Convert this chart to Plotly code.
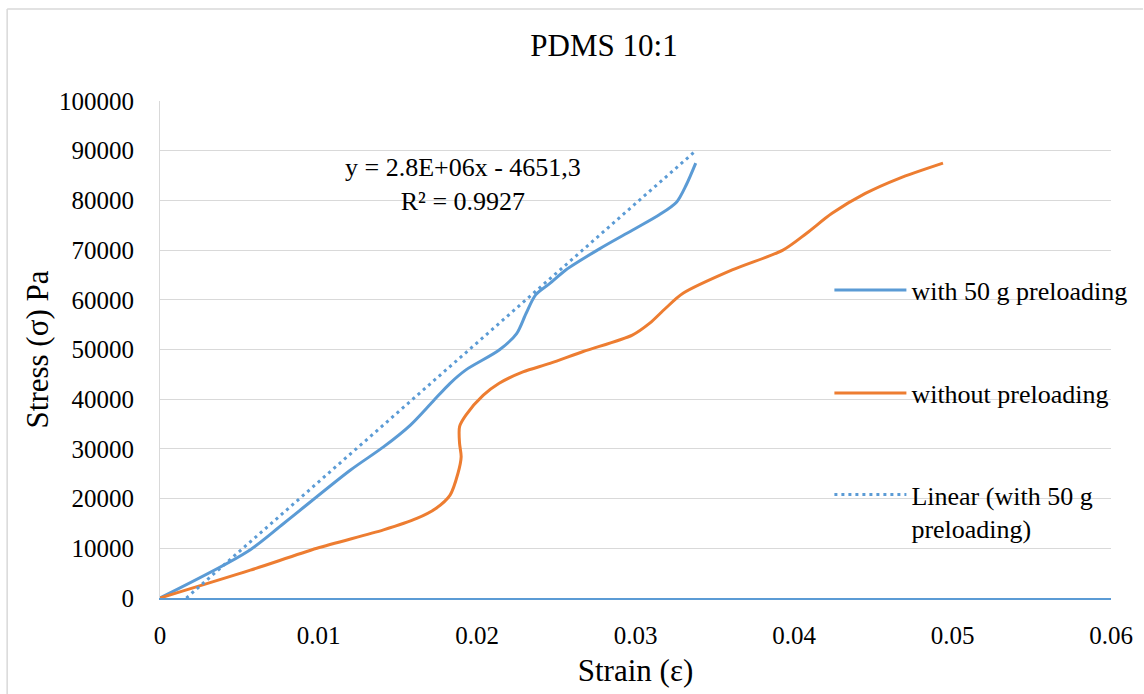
import plotly.graph_objects as go

# Stress-strain measurements for PDMS 10:1
strain_preloaded = [0, 0.0055, 0.0078, 0.0120, 0.0141, 0.0158, 0.0172,
                    0.0183, 0.0193, 0.0214, 0.0225, 0.0231, 0.0237, 0.0246, 0.0256,
                    0.0277, 0.0298, 0.0315, 0.0326, 0.0332, 0.0338]
stress_preloaded = [0, 9300, 15000, 25700, 30400, 34800, 39500,
                    43200, 45900, 49900, 53200, 57300, 61000, 63300, 66000,
                    70200, 74000, 77100, 79700, 83100, 87500]

strain_plain = [0, 0.0057, 0.0099, 0.0141, 0.0162, 0.0174, 0.0183, 0.0188, 0.0190,
                0.0189, 0.0189, 0.0193, 0.0204, 0.0214, 0.0229, 0.0246, 0.0267,
                0.0298, 0.0309, 0.0319, 0.0330, 0.0361, 0.0393, 0.0408, 0.0424,
                0.0445, 0.0466, 0.0494]
stress_plain = [0, 5600, 10000, 13700, 16000, 18000, 20700, 25100, 28400,
                31100, 34500, 36800, 40800, 43200, 45500, 47200, 49600,
                52900, 55300, 58300, 61300, 66000, 70000, 73400, 77400,
                81400, 84400, 87500]

# Linear trendline of the preloaded series
fit_slope = 2.8e6
fit_intercept = -4651.3

x_ticks = [0, 0.01, 0.02, 0.03, 0.04, 0.05, 0.06]
y_ticks = list(range(0, 100001, 10000))

BLUE = "#5B9BD5"
ORANGE = "#ED7D31"
GRID = "#D9D9D9"
FONT = "'Liberation Serif', 'Times New Roman', serif"

fit_x = [0, max(strain_preloaded)]
fit_y = [fit_slope * v + fit_intercept for v in fit_x]

fig = go.Figure()
fig.add_trace(go.Scatter(
    x=strain_preloaded, y=stress_preloaded, mode="lines",
    name="with 50 g preloading", legend="legend", showlegend=True,
    line=dict(color=BLUE, width=3, shape="spline", smoothing=0.8),
))
fig.add_trace(go.Scatter(
    x=strain_plain, y=stress_plain, mode="lines",
    name="without preloading", legend="legend2", showlegend=True,
    line=dict(color=ORANGE, width=3, shape="spline", smoothing=0.8),
))
fig.add_trace(go.Scatter(
    x=fit_x, y=fit_y, mode="lines",
    name="Linear (with 50 g<br>preloading)", legend="legend3", showlegend=True,
    line=dict(color=BLUE, width=3, dash="3px,4px"),
))

legend_common = dict(
    font=dict(family=FONT, size=26, color="#000000"),
    bgcolor="rgba(0,0,0,0)", borderwidth=0,
    xanchor="left", x=0.70 + 3 / 952, itemwidth=72,
)

fig.update_layout(
    width=1144, height=694,
    showlegend=True,
    margin=dict(l=160, r=32, t=101, b=96),
    paper_bgcolor="white", plot_bgcolor="white",
    font=dict(family=FONT, size=25, color="#000000"),
    title=dict(text="PDMS 10:1", font=dict(family=FONT, size=31),
               x=604 / 1144, xref="container", xanchor="center",
               y=1 - 45 / 694, yref="container", yanchor="middle"),
    xaxis=dict(range=[0, 0.06], tickvals=x_ticks,
               ticktext=[f"{v:g}" for v in x_ticks],
               showgrid=False, zeroline=False,
               showline=True, linecolor=BLUE, linewidth=1.5,
               ticks="", ticklabelstandoff=14,
               title=dict(text="Strain (ε)", font=dict(family=FONT, size=31), standoff=12)),
    yaxis=dict(range=[0, 100000], tickvals=y_ticks,
               ticktext=[str(v) for v in y_ticks],
               showgrid=True, gridcolor=GRID, gridwidth=1.3,
               zeroline=False, showline=True, linecolor=GRID, linewidth=1,
               ticks="", ticklabelstandoff=20,
               title=dict(text="Stress (σ) Pa", font=dict(family=FONT, size=31), standoff=1)),
    legend=dict(**legend_common, y=(598 - 290) / 497, yanchor="middle"),
    legend2=dict(**legend_common, y=(598 - 393) / 497, yanchor="middle"),
    legend3=dict(**legend_common, y=(598 - 471) / 497, yanchor="top", valign="top"),
    annotations=[dict(
        x=0.0191, y=83100, xref="x", yref="y",
        text="y = 2.8E+06x - 4651,3<br>R² = 0.9927",
        showarrow=False, align="center",
        font=dict(family=FONT, size=26),
    )],
    shapes=[
        dict(type="line", xref="paper", yref="paper",
             x0=(7 - 160) / 952, x1=(1144 - 160) / 952,
             y0=(598 - 9) / 497, y1=(598 - 9) / 497,
             line=dict(color=GRID, width=1.5)),
        dict(type="line", xref="paper", yref="paper",
             x0=(7 - 160) / 952, x1=(7 - 160) / 952,
             y0=(598 - 9) / 497, y1=(598 - 694) / 497,
             line=dict(color=GRID, width=1.5)),
    ],
)

fig.write_html("out.html")
